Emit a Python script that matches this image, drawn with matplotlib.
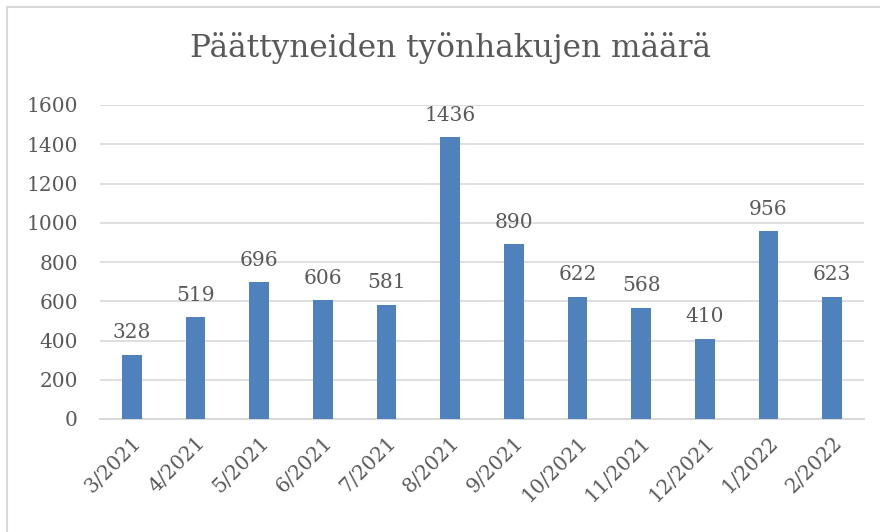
import matplotlib
matplotlib.use('Agg')
import matplotlib.pyplot as plt
from matplotlib.lines import Line2D

BAR = '#4f81bd'
TEXT = '#595959'
GRID = '#d9d9d9'

months = ['3/2021', '4/2021', '5/2021', '6/2021', '7/2021', '8/2021',
          '9/2021', '10/2021', '11/2021', '12/2021', '1/2022', '2/2022']
counts = [328, 519, 696, 606, 581, 1436, 890, 622, 568, 410, 956, 623]
yticks = [0, 200, 400, 600, 800, 1000, 1200, 1400, 1600]

plt.rcParams['font.family'] = ['DejaVu Serif']

fig = plt.figure(figsize=(8.8, 5.32), dpi=100)
ax = fig.add_axes([100 / 880, 1 - 419 / 532, 764 / 880, (419 - 105) / 532])

x = range(len(months))
bars = ax.bar(x, counts, width=0.31, color=BAR, zorder=3)
ax.set_xlim(-0.5, len(months) - 0.5)
ax.set_ylim(0, 1600)
ax.set_yticks(yticks)
ax.set_yticklabels([str(v) for v in yticks], fontsize=14.5, color=TEXT)
ax.set_xticks(list(x))
ax.set_xticklabels(months, rotation=45, ha='right', rotation_mode='anchor',
                   fontsize=14.5, color=TEXT)
ax.tick_params(axis='y', length=0, pad=16)
ax.tick_params(axis='x', length=0, pad=10)
ax.grid(axis='y', color=GRID, lw=1.2, zorder=0)
for s in ['top', 'right', 'left']:
    ax.spines[s].set_visible(False)
ax.spines['bottom'].set_color(GRID)
ax.spines['bottom'].set_linewidth(1.5)

for rect, v in zip(bars, counts):
    ax.annotate(str(v), (rect.get_x() + rect.get_width() / 2, v),
                xytext=(0, 9), textcoords='offset points',
                ha='center', va='bottom', fontsize=14.5, color=TEXT)

fig.text(451 / 880, 1 - 48 / 532, 'Päättyneiden työnhakujen määrä',
         ha='center', va='center', fontsize=22.5, color=TEXT)

# chart frame (left and top edges visible)
fig.add_artist(Line2D([7 / 880, 7 / 880], [0, 1 - 7 / 532], color=GRID, lw=1.5))
fig.add_artist(Line2D([7 / 880, 1], [1 - 7 / 532, 1 - 7 / 532], color=GRID, lw=1.5))

fig.savefig('out.png', dpi=100, facecolor='white')
